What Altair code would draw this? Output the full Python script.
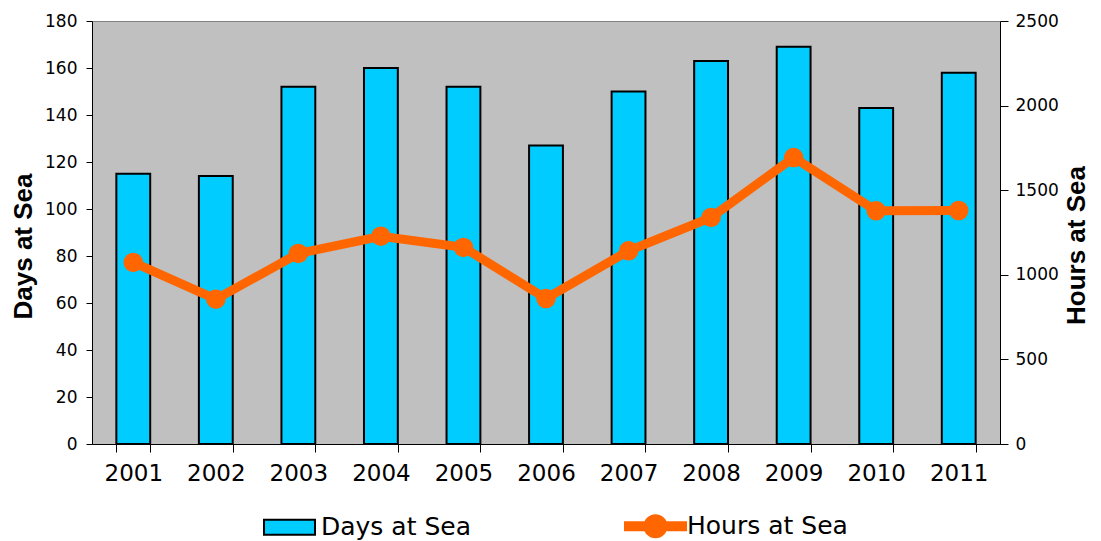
import altair as alt
import pandas as pd

years = ["2001", "2002", "2003", "2004", "2005", "2006", "2007", "2008", "2009", "2010", "2011"]
days = [115, 114, 152, 160, 152, 127, 150, 163, 169, 143, 158]
hours = [1073, 856, 1126, 1228, 1162, 860, 1142, 1339, 1693, 1378, 1380]
series = ["Days at Sea", "Hours at Sea"]
series_fill = ["#00CCFF", "#FF6600"]
series_stroke = ["#000000", "#FF6600"]
series_shape = [
    "M-2.04,-0.6L2.04,-0.6L2.04,0.6L-2.04,0.6Z",
    "M-2.44,-0.32L2.44,-0.32L2.44,0.32L-2.44,0.32Z"
    "M-0.88,0A0.88,0.88 0 1,1 0.88,0A0.88,0.88 0 1,1 -0.88,0Z",
]

df = pd.DataFrame({"year": years, "days": days, "hours": hours})
legend_df = pd.DataFrame({"series": series})

FONT = "Liberation Sans"
LFONT = "DejaVu Sans"

x_enc = alt.X(
    "year:N",
    sort=years,
    title=None,
    scale=alt.Scale(paddingInner=0.59, paddingOuter=0.295),
    axis=alt.Axis(
        labelAngle=0, labelFontSize=23, labelFont=LFONT, labelColor="black",
        tickBand="extent", tickSize=8, tickColor="black", labelPadding=10,
        domainColor="black", grid=False,
    ),
)

bars = alt.Chart(df).mark_bar(fill="#00CCFF", stroke="black", strokeWidth=2).encode(
    x=x_enc,
    y=alt.Y(
        "days:Q",
        scale=alt.Scale(domain=[0, 180], nice=False),
        axis=alt.Axis(
            title="Days at Sea", values=list(range(0, 181, 20)), grid=False, format="d",
            labelFontSize=17, labelFont=LFONT, labelColor="black",
            tickSize=6, tickColor="black", labelPadding=9, domainColor="black",
            titleFontSize=26, titleFont=FONT, titleFontWeight="bold",
            titleColor="black", titlePadding=8, titleY=225,
        ),
    ),
)

line = alt.Chart(df).mark_line(
    color="#FF6600", strokeWidth=9,
    point=alt.OverlayMarkDef(filled=True, size=380, color="#FF6600", opacity=1),
).encode(
    x=x_enc,
    y=alt.Y(
        "hours:Q",
        scale=alt.Scale(domain=[0, 2500], nice=False),
        axis=alt.Axis(
            orient="right", title="Hours at Sea", values=list(range(0, 2501, 500)), grid=False,
            format="d",
            labelFontSize=17, labelFont=LFONT, labelColor="black",
            tickSize=8, tickColor="black", labelPadding=7, domainColor="black",
            titleFontSize=26, titleFont=FONT, titleFontWeight="bold",
            titleColor="black", titlePadding=31, titleAngle=270, titleY=224,
        ),
    ),
)

leg = alt.Legend(
    title=None, orient="none", legendX=184, legendY=491.5, direction="horizontal",
    labelFontSize=25, labelFont=LFONT, labelColor="black", labelOffset=18, labelLimit=400,
    symbolSize=625, symbolStrokeWidth=2, symbolOpacity=1, columnPadding=150,
)

legend_layer = alt.Chart(legend_df).mark_point(filled=True, opacity=0).encode(
    color=alt.Color("series:N", scale=alt.Scale(domain=series, range=series_fill), legend=leg),
    stroke=alt.Stroke("series:N", scale=alt.Scale(domain=series, range=series_stroke), legend=leg),
    shape=alt.Shape("series:N", scale=alt.Scale(domain=series, range=series_shape), legend=leg),
)

chart = alt.layer(bars, line, legend_layer).resolve_scale(y="independent").properties(
    width=908,
    height=423,
    padding={"left": 84, "top": 13, "right": 93, "bottom": 96},
    autosize=alt.AutoSizeParams(type="none"),
    view=alt.ViewBackground(fill="#C0C0C0", stroke="#808080", strokeWidth=1),
).configure_view(fill="#C0C0C0", stroke="#808080", strokeWidth=1)

chart.save("out.html", embed_options={"renderer": "svg", "actions": False})
